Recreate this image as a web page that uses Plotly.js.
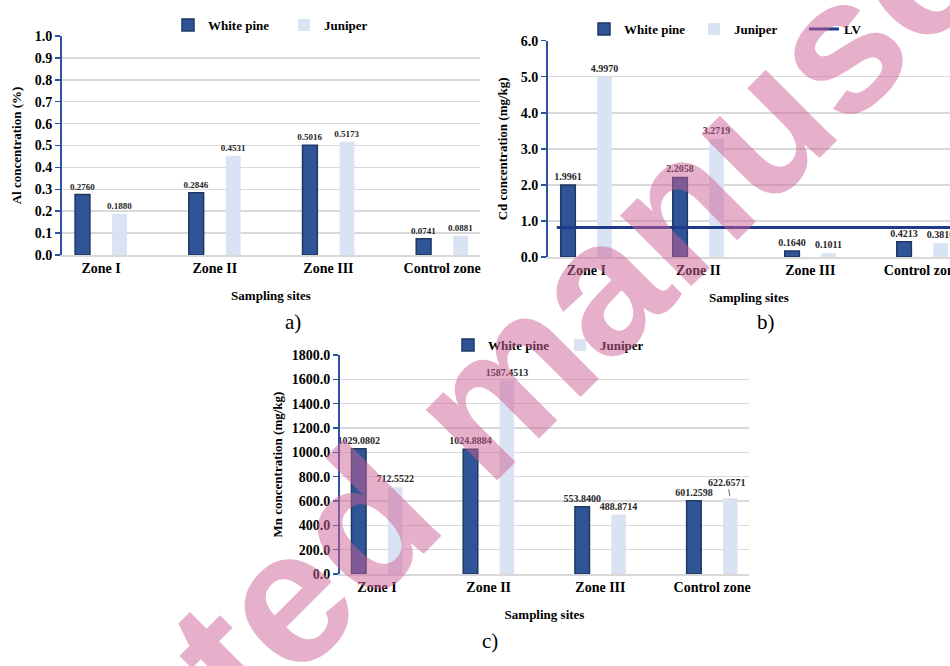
<!DOCTYPE html>
<html><head><meta charset="utf-8">
<script src="https://cdn.plot.ly/plotly-3.0.1.min.js"></script>
<style>html,body{margin:0;padding:0;background:#fff}#chart{width:950px;height:666px}</style>
</head><body><div id="chart"></div>
<script>
// ---------- data ----------
const sites = ['Zone I', 'Zone II', 'Zone III', 'Control zone'];
const seriesNames = ['White pine', 'Juniper', 'LV'];
const alWhitePine = [0.2760, 0.2846, 0.5016, 0.0741];
const alJuniper   = [0.1880, 0.4531, 0.5173, 0.0881];
const cdWhitePine = [1.9961, 2.2058, 0.1640, 0.4213];
const cdJuniper   = [4.9970, 3.2719, 0.1011, 0.3810];
const cdLimitValue = 0.82;
const mnWhitePine = [1029.0802, 1024.8884, 553.8400, 601.2598];
const mnJuniper   = [712.5522, 1587.4513, 488.8714, 622.6571];
const yTitles = ['Al concentration (%)', 'Cd concentration (mg/kg)', 'Mn concentration (mg/kg)'];
const xTitle = 'Sampling sites';
const panelLabels = ['a)', 'b)', 'c)'];
const watermarkText = 'Accepted manuscript';

// ---------- style ----------
const SERIF = '"Liberation Serif", "Times New Roman", serif';
const WP_COLOR = '#2f5597', WP_EDGE = '#1f3864', JU_COLOR = '#dae3f3';
const AXIS_BLUE = '#2f52a0', GRID = '#d9d9d9';
const BARGAP = 0.348, BARGROUPGAP = 0.6;

function labels(y) { return y.map(v => v.toFixed(4)); }
function barTrace(name, y, txt, xa, ya, leg, color, line, fs) {
  return {
    type: 'bar', name: name, x: sites, y: y, xaxis: xa, yaxis: ya, legend: leg,
    marker: {color: color, line: line},
    text: txt, textposition: 'outside', constraintext: 'none',
    cliponaxis: false,
    textfont: {family: SERIF, size: fs, weight: 'bold', color: '#262626'},
    hoverinfo: 'none'
  };
}
const wpLine = {color: WP_EDGE, width: 1.5};
const juLine = {color: JU_COLOR, width: 0};

// the last Mn juniper label is drawn as a callout (leader line), like the original
const mnJuniperText = labels(mnJuniper);
const calloutIdx = 3;
const calloutText = mnJuniperText[calloutIdx];
mnJuniperText[calloutIdx] = '';

const data = [
  barTrace(seriesNames[0], alWhitePine, labels(alWhitePine), 'x', 'y', 'legend', WP_COLOR, wpLine, 9),
  barTrace(seriesNames[1], alJuniper, labels(alJuniper), 'x', 'y', 'legend', JU_COLOR, juLine, 9),
  barTrace(seriesNames[0], cdWhitePine, labels(cdWhitePine), 'x2', 'y2', 'legend2', WP_COLOR, wpLine, 10),
  barTrace(seriesNames[1], cdJuniper, labels(cdJuniper), 'x2', 'y2', 'legend2', JU_COLOR, juLine, 10),
  {type: 'scatter', mode: 'lines', name: seriesNames[2], x: [null], y: [null],
   xaxis: 'x2', yaxis: 'y2', legend: 'legend2', line: {color: '#1f3a8a', width: 3}, hoverinfo: 'none'},
  barTrace(seriesNames[0], mnWhitePine, labels(mnWhitePine), 'x3', 'y3', 'legend3', WP_COLOR, wpLine, 10),
  barTrace(seriesNames[1], mnJuniper, mnJuniperText, 'x3', 'y3', 'legend3', JU_COLOR, juLine, 10)
];

function xAxis(domain, anchor, range) {
  return {
    domain: domain, anchor: anchor, range: range, type: 'category',
    showline: true, linecolor: GRID, linewidth: 1.5, ticks: '', showgrid: false,
    tickfont: {family: SERIF, size: 14, weight: 'bold', color: '#000'},
    title: {text: xTitle, font: {family: SERIF, size: 13, weight: 'bold', color: '#000'}, standoff: 15},
    fixedrange: true
  };
}
function yAxis(domain, anchor, range, dtick, title, standoff) {
  return {
    domain: domain, anchor: anchor, range: range, dtick: dtick, tickformat: '.1f',
    showline: true, linecolor: AXIS_BLUE, linewidth: 2,
    ticks: 'outside', ticklen: 5, tickwidth: 1.5, tickcolor: AXIS_BLUE,
    showgrid: true, gridcolor: GRID, gridwidth: 1.5, zeroline: false,
    tickfont: {family: SERIF, size: 14, weight: 'bold', color: '#000'},
    title: {text: title, font: {family: SERIF, size: 13, weight: 'bold', color: '#000'}, standoff: standoff},
    fixedrange: true
  };
}
function legendAt(x, y, ew) {
  return {
    x: x, y: y, xanchor: 'left', yanchor: 'middle', orientation: 'h',
    font: {family: SERIF, size: 13, weight: 'bold', color: '#000'},
    bgcolor: 'rgba(0,0,0,0)', entrywidth: ew, entrywidthmode: 'pixels'
  };
}

const juOffset = (1 - BARGAP) / 4;   // centre of the second bar in a group

const layout = {
  width: 950, height: 666, margin: {l: 0, r: 0, t: 0, b: 0},
  paper_bgcolor: '#fff', plot_bgcolor: 'rgba(0,0,0,0)',
  barmode: 'group', bargap: BARGAP, bargroupgap: BARGROUPGAP,
  font: {family: SERIF, color: '#000'},
  showlegend: true,
  xaxis:  xAxis([0.0653, 0.5053], 'y',  [-0.343, 3.333]),
  yaxis:  yAxis([0.6171, 0.9459], 'x',  [0, 1], 0.1, yTitles[0], 10),
  xaxis2: xAxis([0.5768, 1.0], 'y2', [-0.342, 3.247]),
  yaxis2: yAxis([0.6141, 0.9389], 'x2', [0, 6], 1, yTitles[1], 10),
  xaxis3: xAxis([0.3579, 0.7884], 'y3', [-0.331, 3.33]),
  yaxis3: yAxis([0.1381, 0.4670], 'x3', [0, 1800], 200, yTitles[2], 6),
  legend:  legendAt(168 / 950, 1 - 25 / 666, 71),
  legend2: legendAt(584 / 950, 1 - 29 / 666, 65),
  legend3: legendAt(448 / 950, 1 - 345 / 666, 67),
  shapes: [
    {type: 'line', xref: 'x2 domain', yref: 'y2', x0: 0.022, x1: 1, y0: cdLimitValue, y1: cdLimitValue,
     line: {color: '#1f3a8a', width: 3}, layer: 'above'}
  ],
  annotations: [
    {text: calloutText, xref: 'x3', yref: 'y3', x: calloutIdx + juOffset, y: mnJuniper[calloutIdx],
     showarrow: true, arrowhead: 0, arrowwidth: 0.8, arrowcolor: '#404040', ax: -3, ay: -16, standoff: 2,
     font: {family: SERIF, size: 10, weight: 'bold', color: '#262626'}},
    {text: panelLabels[0], xref: 'paper', yref: 'paper', x: 283 / 950, y: 1 - 322 / 666,
     showarrow: false, font: {family: SERIF, size: 21, color: '#000'}},
    {text: panelLabels[1], xref: 'paper', yref: 'paper', x: 777 / 950, y: 1 - 322 / 666,
     showarrow: false, font: {family: SERIF, size: 21, color: '#000'}},
    {text: panelLabels[2], xref: 'paper', yref: 'paper', x: 490 / 950, y: 1 - 655 / 666,
     showarrow: false, font: {family: SERIF, size: 21, color: '#000'}},
    {text: watermarkText, xref: 'paper', yref: 'paper', x: 482 / 950, y: 1 - 402 / 666,
     xanchor: 'center', yanchor: 'middle', textangle: -45, showarrow: false,
     font: {family: '"Liberation Sans", Arial, sans-serif', size: 190, weight: 'bold', color: 'rgba(205,95,150,0.5)'}}
  ]
};

Plotly.newPlot('chart', data, layout, {displayModeBar: false, staticPlot: true});
</script>
</body></html>
